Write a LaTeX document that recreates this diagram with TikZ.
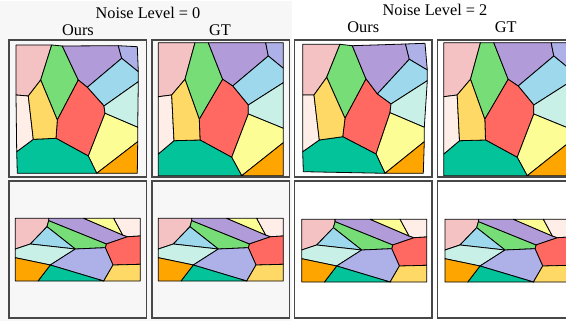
\documentclass[tikz,border=0pt]{standalone}
\usepackage{fontspec}
\setmainfont{Liberation Serif}
\definecolor{bggray}{HTML}{F7F7F7}
\definecolor{cpink}{HTML}{F4C2C2}
\definecolor{cgreen}{HTML}{77DD77}
\definecolor{cpurple}{HTML}{B19CD9}
\definecolor{clav}{HTML}{AEB1E8}
\definecolor{cblue}{HTML}{9ED8EC}
\definecolor{cred}{HTML}{FF6961}
\definecolor{cmint}{HTML}{C9F0E6}
\definecolor{cyellow}{HTML}{FDFD96}
\definecolor{corange}{HTML}{FFA500}
\definecolor{cteal}{HTML}{03C39A}
\definecolor{cpeach}{HTML}{FFEDE8}
\definecolor{cyo}{HTML}{FFD966}
\newcommand{\TopCells}{%
  \filldraw[cell,fill=cpink] (p1)--(p2)--(p20)--(p21)--(p22)--cycle;
  \filldraw[cell,fill=cgreen] (p2)--(p3)--(p8)--(p19)--(p20)--cycle;
  \filldraw[cell,fill=cpurple] (p3)--(p4)--(p6)--(p9)--(p8)--cycle;
  \filldraw[cell,fill=clav] (p4)--(p5)--(p7)--(p6)--cycle;
  \filldraw[cell,fill=cblue] (p6)--(p7)--(p10)--(p11)--(p9)--cycle;
  \filldraw[cell,fill=cred] (p8)--(p9)--(p11)--(p12)--(p17)--(p18)--(p19)--cycle;
  \filldraw[cell,fill=cmint] (p11)--(p10)--(p13)--(p12)--cycle;
  \filldraw[cell,fill=cyellow] (p12)--(p13)--(p14)--(p15)--(p17)--cycle;
  \filldraw[cell,fill=corange] (p14)--(p16)--(p15)--cycle;
  \filldraw[cell,fill=cteal] (p24)--(p23)--(p18)--(p17)--(p15)--(p26)--cycle;
  \filldraw[cell,fill=cpeach] (p22)--(p21)--(p23)--(p24)--cycle;
  \filldraw[cell,fill=cyo] (p20)--(p19)--(p18)--(p23)--(p21)--cycle;
}
\newcommand{\BottomCells}{%
  \foreach \n/\x/\y in {1/6.3/37.3, 2/39.7/37.3, 3/74.7/37.3, 4/104.7/37.3, 5/131.3/37.3,
    6/131.3/55, 7/118.7/55.7, 8/113.7/54, 9/97.3/63, 10/39.7/39.7, 11/38/45.7,
    12/21.3/63, 13/6.3/68, 14/66.3/68, 15/96.3/66.7, 16/104/84, 17/131.3/83.3,
    18/131.3/100, 19/94.7/100, 20/29/100, 21/6.3/100, 22/6.3/76.7, 23/41.3/84}
    {\coordinate (b\n) at (\x,\y);}
  \filldraw[cell,fill=cpink] (b1)--(b2)--(b10)--(b11)--(b12)--(b13)--cycle;
  \filldraw[cell,fill=cpurple] (b2)--(b3)--(b8)--(b7)--(b9)--(b10)--cycle;
  \filldraw[cell,fill=cyellow] (b3)--(b4)--(b8)--cycle;
  \filldraw[cell,fill=cpeach] (b4)--(b5)--(b6)--(b7)--(b8)--cycle;
  \filldraw[cell,fill=cred] (b7)--(b6)--(b17)--(b16)--(b15)--(b9)--cycle;
  \filldraw[cell,fill=cgreen] (b10)--(b9)--(b15)--(b14)--(b11)--cycle;
  \filldraw[cell,fill=cblue] (b11)--(b14)--(b12)--cycle;
  \filldraw[cell,fill=cmint] (b13)--(b12)--(b14)--(b23)--(b22)--cycle;
  \filldraw[cell,fill=clav] (b14)--(b15)--(b16)--(b19)--(b23)--cycle;
  \filldraw[cell,fill=cyo] (b16)--(b17)--(b18)--(b19)--cycle;
  \filldraw[cell,fill=cteal] (b23)--(b19)--(b20)--cycle;
  \filldraw[cell,fill=corange] (b22)--(b23)--(b20)--(b21)--cycle;
}
\newcommand{\GTTop}{%
  \foreach \n/\x/\y in {1/6.3/2.7, 2/43/2.7, 3/56.3/2.7, 4/113.7/2.7, 5/131.3/2.7,
    6/116.3/16, 7/131.3/28.3, 8/70.7/39.3, 9/80.7/46, 10/131.3/42.7, 11/96.3/65,
    12/96.3/74, 13/131.3/88.3, 14/131.3/102.7, 15/89.7/135.7, 16/131.3/135.7,
    17/79.7/117.3, 18/48/100, 19/47.3/79.3, 20/33/39.3, 21/19.7/55, 22/6.3/56.7,
    23/22/100.7, 24/6.3/114, 26/6.3/135.7}
    {\coordinate (p\n) at (\x,\y);}
  \TopCells
}
\begin{document}
\begin{tikzpicture}[x=1pt,y=-1pt,
  cell/.style={draw=black,line width=0.8pt,line join=round},
  frame/.style={draw=black!72,line width=1.3pt},
  lbl/.style={font=\fontsize{16.3}{18}\selectfont,inner sep=0pt}]
\useasboundingbox (0,0) rectangle (566,321);
\clip (0,0) rectangle (566,321);
\fill[white] (0,0) rectangle (566,321);
\fill[bggray] (0,1.5) rectangle (292,321);

% titles
\node[lbl] (t0) at (148,13) {Noise Level = 0};
\node[lbl] (o0) at (78,30) {Ours};
\node[lbl] (g0) at (220,30) {GT};
\node[lbl] (t2) at (435,10) {Noise Level = 2};
\node[lbl] (o2) at (363.3,27.3) {Ours};
\node[lbl] (g2) at (505.8,27.3) {GT};

% panel 1: Ours, noise 0, top
\begin{scope}[shift={(9,40)}]
  \foreach \n/\x/\y in {1/7/5, 2/42.7/5, 3/53.3/6, 4/109.3/5.7, 5/128.3/6.7,
    6/112.7/18.3, 7/129.3/31.7, 8/69.3/40, 9/78.3/47.3, 10/129.3/41.7, 11/95/66,
    12/96/73.3, 13/128.7/87.3, 14/128.7/101.7, 15/87.7/133.3, 16/128.3/133.3,
    17/79.3/116, 18/47/98.3, 19/48.3/80, 20/31.7/40, 21/19.3/56, 22/7/55,
    23/24.3/99.3, 24/7.7/111.7, 26/8.3/133.3}
    {\coordinate (p\n) at (\x,\y);}
  \TopCells
  \draw[frame] (0,0) rectangle (137.5,137);
\end{scope}

% panel 2: GT, noise 0, top
\begin{scope}[shift={(152,40)}]
  \GTTop
  \draw[frame] (0,0) rectangle (137.5,137);
\end{scope}

% panel 3: Ours, noise 2, top
\begin{scope}[shift={(294.5,40)}]
  \foreach \n/\x/\y in {1/8.2/4.3, 2/45.5/4.3, 3/57.8/5.7, 4/111/4, 5/130.5/3.3,
    6/114.8/19.3, 7/132.8/30, 8/71.5/39, 9/82.8/54, 10/132.8/40.7, 11/96.5/64,
    12/95.5/72.7, 13/129.8/87.3, 14/129.8/101.7, 15/90.5/133.3, 16/128.8/133.3,
    17/81.5/114, 18/48.2/96.7, 19/50.5/78.3, 20/32.2/37.3, 21/19.5/55, 22/8.2/55,
    23/24.8/100, 24/8.2/111.7, 26/8.8/131.7}
    {\coordinate (p\n) at (\x,\y);}
  \TopCells
  \draw[frame] (0,0) rectangle (137.5,137);
\end{scope}

% panel 4: GT, noise 2, top
\begin{scope}[shift={(437.5,40)}]
  \GTTop
  \draw[frame] (0,0) rectangle (137.5,137);
\end{scope}

% bottom row
\begin{scope}[shift={(9,181)}]
  \BottomCells
  \draw[frame] (0,0) rectangle (137.5,137);
\end{scope}
\begin{scope}[shift={(152,181)}]
  \BottomCells
  \draw[frame] (0,0) rectangle (137.5,137);
\end{scope}
\begin{scope}[shift={(294.5,181)}]
  \begin{scope}[shift={(0.9,1)}]
    \BottomCells
  \end{scope}
  \draw[frame] (0,0) rectangle (137.5,137);
\end{scope}
\begin{scope}[shift={(437.5,181)}]
  \begin{scope}[shift={(1.2,1)}]
    \BottomCells
  \end{scope}
  \draw[frame] (0,0) rectangle (137.5,137);
\end{scope}
\end{tikzpicture}
\end{document}
